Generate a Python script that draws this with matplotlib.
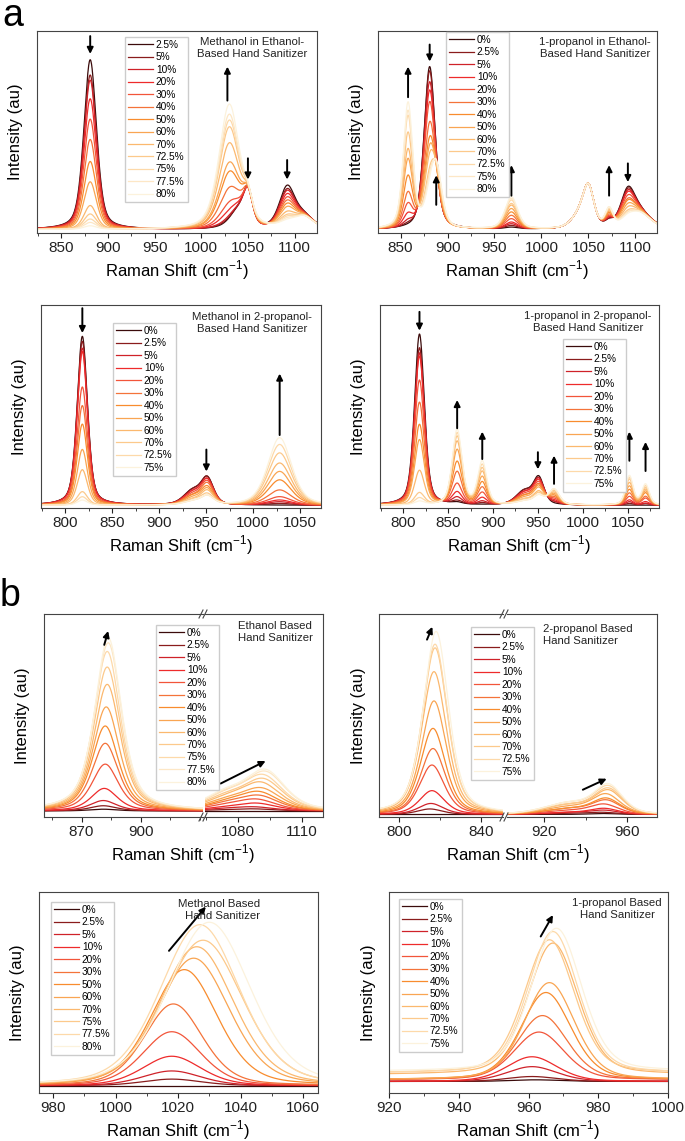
import numpy as np
import matplotlib
matplotlib.use("Agg")
from matplotlib import pyplot as plt
from matplotlib.lines import Line2D
from matplotlib.ticker import MultipleLocator, FixedLocator

plt.rcParams['font.family'] = ['Liberation Sans', 'DejaVu Sans']

W, H = 685, 1141

PALETTE = ['#3b0b0b', '#8a1c1c', '#cf2229', '#ee2b2b', '#f2553a', '#f4733a', '#f88c2e',
           '#f9a552', '#fbb86e', '#fcc98b', '#fdd9a9', '#fde7c6', '#fcf2dc']

# ---- panel a, top left: methanol in ethanol based sanitizer
A1_CONC = ['2.5%', '5%', '10%', '20%', '30%', '40%', '50%', '60%', '70%', '72.5%', '75%', '77.5%', '80%']
A1_CENTERS = [881, 1030, 1040, 1050, 1092, 1110]
A1_WIDTHS = [8, 13, 10, 6, 10, 12]
A1_HEIGHTS = [
    [1.0, 0.91, 0.88, 0.77, 0.65, 0.53, 0.40, 0.28, 0.14, 0.09, 0.06, 0.04, 0.02],
    [0.01, 0.02, 0.03, 0.07, 0.12, 0.21, 0.31, 0.37, 0.49, 0.59, 0.63, 0.67, 0.73],
    [0.10, 0.09, 0.09, 0.08, 0.07, 0.06, 0.05, 0.04, 0.03, 0.02, 0.02, 0.01, 0.01],
    [0.20, 0.20, 0.19, 0.19, 0.18, 0.17, 0.16, 0.15, 0.13, 0.12, 0.11, 0.11, 0.10],
    [0.24, 0.22, 0.21, 0.19, 0.17, 0.15, 0.13, 0.11, 0.08, 0.06, 0.05, 0.04, 0.03],
    [0.07, 0.07, 0.07, 0.07, 0.07, 0.07, 0.07, 0.07, 0.07, 0.07, 0.07, 0.07, 0.07],
]

# ---- panel a, top right: 1-propanol in ethanol based sanitizer
A2_CONC = ['0%', '2.5%', '5%', '10%', '20%', '30%', '40%', '50%', '60%', '70%', '72.5%', '75%', '80%']
A2_CENTERS = [858, 881, 888, 968, 1040, 1050, 1072, 1092, 1105]
A2_WIDTHS = [6, 7, 7, 8, 10, 7, 5, 9, 14]
A2_HEIGHTS = [
    [0.0, 0.01, 0.03, 0.07, 0.13, 0.20, 0.30, 0.40, 0.46, 0.56, 0.66, 0.69, 0.74],
    [0.96, 0.93, 0.86, 0.80, 0.72, 0.58, 0.47, 0.40, 0.33, 0.22, 0.17, 0.15, 0.12],
    [0.0, 0.01, 0.02, 0.04, 0.06, 0.10, 0.14, 0.18, 0.22, 0.27, 0.30, 0.32, 0.34],
    [0.01, 0.02, 0.03, 0.04, 0.06, 0.08, 0.10, 0.12, 0.14, 0.15, 0.17, 0.18, 0.19],
    [0.07, 0.07, 0.07, 0.07, 0.07, 0.07, 0.07, 0.07, 0.07, 0.07, 0.07, 0.07, 0.07],
    [0.23, 0.23, 0.23, 0.23, 0.23, 0.23, 0.23, 0.23, 0.23, 0.23, 0.23, 0.23, 0.23],
    [0.03, 0.03, 0.04, 0.04, 0.05, 0.06, 0.07, 0.08, 0.09, 0.10, 0.10, 0.11, 0.11],
    [0.20, 0.19, 0.18, 0.17, 0.15, 0.13, 0.12, 0.10, 0.08, 0.06, 0.05, 0.05, 0.04],
    [0.09, 0.09, 0.09, 0.09, 0.09, 0.09, 0.09, 0.09, 0.09, 0.09, 0.09, 0.09, 0.09],
]

# ---- panel a, bottom left: methanol in 2-propanol based sanitizer
A3_CONC = ['0%', '2.5%', '5%', '10%', '20%', '30%', '40%', '50%', '60%', '70%', '72.5%', '75%']
A3_CENTERS = [818, 935, 951, 1028]
A3_WIDTHS = [6.5, 11, 8, 15]
A3_HEIGHTS = [
    [1.0, 0.97, 0.93, 0.91, 0.70, 0.59, 0.48, 0.33, 0.21, 0.08, 0.05, 0.03],
    [0.08, 0.08, 0.07, 0.07, 0.06, 0.05, 0.05, 0.04, 0.03, 0.03, 0.02, 0.02],
    [0.15, 0.15, 0.14, 0.14, 0.13, 0.12, 0.10, 0.09, 0.08, 0.06, 0.05, 0.05],
    [0.0, 0.01, 0.02, 0.03, 0.05, 0.09, 0.15, 0.20, 0.25, 0.31, 0.36, 0.40],
]

# ---- panel a, bottom right: 1-propanol in 2-propanol based sanitizer
A4_CONC = ['0%', '2.5%', '5%', '10%', '20%', '30%', '40%', '50%', '60%', '70%', '72.5%', '75%']
A4_CENTERS = [818, 860, 888, 935, 951, 968, 1052, 1070]
A4_WIDTHS = [6.5, 6.5, 6, 11, 7, 7, 5, 5]
A4_HEIGHTS = [
    [1.0, 0.92, 0.89, 0.87, 0.73, 0.60, 0.47, 0.38, 0.20, 0.07, 0.04, 0.02],
    [0.01, 0.02, 0.04, 0.07, 0.12, 0.19, 0.25, 0.32, 0.37, 0.40, 0.42, 0.44],
    [0.0, 0.01, 0.02, 0.04, 0.07, 0.10, 0.13, 0.16, 0.19, 0.21, 0.23, 0.25],
    [0.08, 0.08, 0.07, 0.07, 0.06, 0.05, 0.05, 0.04, 0.03, 0.03, 0.02, 0.02],
    [0.15, 0.14, 0.14, 0.13, 0.12, 0.11, 0.10, 0.09, 0.07, 0.06, 0.05, 0.05],
    [0.0, 0.01, 0.01, 0.02, 0.03, 0.04, 0.05, 0.06, 0.07, 0.08, 0.09, 0.09],
    [0.0, 0.01, 0.02, 0.03, 0.05, 0.07, 0.09, 0.11, 0.13, 0.15, 0.16, 0.17],
    [0.0, 0.01, 0.01, 0.02, 0.04, 0.05, 0.07, 0.08, 0.09, 0.10, 0.11, 0.12],
]

# ---- panel b, top left: ethanol based sanitizer (broken axis)
B1_CONC = ['0%', '2.5%', '5%', '10%', '20%', '30%', '40%', '50%', '60%', '70%', '75%', '77.5%', '80%']
B1_LEFT_CENTER = [881, 881, 881, 881.5, 882, 882, 882, 882.5, 883, 883, 883, 883.5, 883.5]
B1_LEFT_HEIGHT = [0.01, 0.03, 0.06, 0.13, 0.27, 0.39, 0.49, 0.60, 0.73, 0.83, 0.92, 0.97, 1.0]
B1_RIGHT_CENTER = [1088, 1088, 1088, 1089, 1089, 1090, 1090, 1091, 1091, 1092, 1092, 1093, 1093]
B1_RIGHT_HEIGHT = [0.0, 0.01, 0.02, 0.04, 0.06, 0.08, 0.10, 0.12, 0.15, 0.17, 0.19, 0.21, 0.22]
B1_SHOULDER = [0.0, 0.005, 0.01, 0.015, 0.025, 0.035, 0.04, 0.05, 0.06, 0.07, 0.08, 0.085, 0.09]
B1_TICKS_LEFT = [870, 900]
B1_TICKS_RIGHT = [1080, 1110]

# ---- panel b, top right: 2-propanol based sanitizer (broken axis)
B2_CONC = ['0%', '2.5%', '5%', '10%', '20%', '30%', '40%', '50%', '60%', '70%', '72.5%', '75%']
B2_LEFT_CENTER = [815, 815, 815.5, 816, 816, 816.5, 816.5, 817, 817, 817.5, 817.5, 818]
B2_LEFT_HEIGHT = [0.0, 0.03, 0.06, 0.13, 0.27, 0.36, 0.47, 0.62, 0.78, 0.91, 0.93, 1.0]
B2_RIGHT_CENTER = [948, 948, 949, 949, 949, 950, 950, 950, 951, 951, 951, 951]
B2_RIGHT_HEIGHT = [0.005, 0.01, 0.02, 0.03, 0.05, 0.07, 0.08, 0.10, 0.12, 0.13, 0.14, 0.15]
B2_SHOULDER = [0.0, 0.005, 0.01, 0.01, 0.02, 0.03, 0.03, 0.04, 0.05, 0.05, 0.06, 0.06]
B2_TICKS_LEFT = [800, 840]
B2_TICKS_RIGHT = [920, 960]

# ---- panel b, bottom left: methanol based sanitizer
B3_CONC = ['0%', '2.5%', '5%', '10%', '20%', '30%', '50%', '60%', '70%', '75%', '77.5%', '80%']
B3_CENTER = [1018, 1018, 1018, 1018, 1018, 1018.5, 1022, 1025, 1026, 1028, 1027, 1030]
B3_WIDTH = [11, 11, 11, 11, 11, 11, 12.5, 13.5, 14, 15, 15, 15.5]
B3_HEIGHT = [0.0, 0.04, 0.09, 0.18, 0.33, 0.50, 0.71, 0.78, 0.85, 0.89, 0.985, 1.0]

# ---- panel b, bottom right: 1-propanol based sanitizer
B4_CONC = ['0%', '2.5%', '5%', '10%', '20%', '30%', '40%', '50%', '60%', '70%', '72.5%', '75%']
B4_CENTER = [962, 961, 961, 961, 963, 964, 965, 966, 967, 966, 967, 968]
B4_HEIGHT = [0.01, 0.03, 0.09, 0.15, 0.29, 0.39, 0.53, 0.59, 0.80, 0.81, 0.86, 0.87]
B4_BASE = [0.07, 0.07, 0.07, 0.07, 0.08, 0.08, 0.08, 0.08, 0.11, 0.12, 0.12, 0.13]

XLABEL = 'Raman Shift (cm$^{\\mathregular{-1}}$)'


def peak(x, c, w, eta):
    u = (x - c) / w
    return eta / (1 + u ** 2) + (1 - eta) * np.exp(-np.log(2) * u ** 2)


def pick(v, i):
    return v[i] if np.ndim(v) else v


def spectrum(x, i, centers, widths, heights, eta=0.45, base=0.0):
    y = np.full_like(x, pick(base, i), dtype=float)
    for c, w, h in zip(centers, widths, heights):
        y += pick(h, i) * peak(x, pick(c, i), pick(w, i), eta)
    return y


def colors_for(n):
    if n == 13:
        return PALETTE
    return PALETTE[:11] + PALETTE[12:]


fig = plt.figure(figsize=(W / 100, H / 100), dpi=100)


def make_ax(l, t, r, b, xlim, major, minor):
    ax = fig.add_axes([l / W, 1 - b / H, (r - l) / W, (b - t) / H])
    ax.set_xlim(*xlim)
    ax.set_yticks([])
    if np.ndim(major):
        ax.xaxis.set_major_locator(FixedLocator(major))
    else:
        ax.xaxis.set_major_locator(MultipleLocator(major))
    ax.xaxis.set_minor_locator(MultipleLocator(minor))
    ax.tick_params(axis='x', which='major', direction='out', length=3.5, width=0.8,
                   labelsize=11, pad=2, colors='#222222')
    ax.tick_params(axis='x', which='minor', direction='out', length=2, width=0.6, colors='#222222')
    for s in ax.spines.values():
        s.set_linewidth(0.8)
        s.set_color('#444444')
    return ax


def labels(l, r, t, b):
    fig.text((l + r) / 2 / W, 1 - (b + 37) / H, XLABEL, ha='center', va='center', fontsize=12)
    fig.text((l - 21) / W, 1 - (t + b) / 2 / H, 'Intensity (au)', rotation=90, ha='center', va='center', fontsize=12)


def legend(handles, x, y):
    fig.legend(handles=handles, loc='upper left', bbox_to_anchor=(x / W, 1 - y / H),
               bbox_transform=fig.transFigure, fontsize=7.3, labelspacing=0.24,
               handlelength=2.5, handletextpad=0.25, borderpad=0.3, borderaxespad=0,
               fancybox=False, edgecolor='#cccccc', framealpha=1)


def note(x, y, text, ha='center'):
    fig.text(x / W, 1 - y / H, text, ha=ha, va='center', fontsize=8.2, linespacing=1.15,
             multialignment=ha, color='#222222')


def arrow(ax, x0, y0, x1, y1):
    ax.annotate('', xy=(x1, y1), xytext=(x0, y0),
                arrowprops=dict(arrowstyle='-|>', color='black', lw=1.4, mutation_scale=9,
                                shrinkA=0, shrinkB=0))


def break_marks(xpx, t, b):
    for y in (t, b):
        for dx in (-3, 1):
            fig.add_artist(Line2D([(xpx + dx - 2) / W, (xpx + dx + 2) / W],
                                  [1 - (y + 4) / H, 1 - (y - 4) / H], color='#444444', lw=0.8))


def draw_simple(ax, conc, centers, widths, heights, xlim, eta=0.45, base=0.0):
    x = np.linspace(xlim[0], xlim[1], 900)
    cols = colors_for(len(conc))
    lines = []
    for i, lab in enumerate(conc):
        ln, = ax.plot(x, spectrum(x, i, centers, widths, heights, eta, base), color=cols[i], lw=0.9, label=lab)
        lines.append(ln)
    return lines


# panel letters
fig.text(2 / W, 1 - 26 / H, 'a', fontsize=27, va='baseline', ha='left')
fig.text(0 / W, 1 - 606 / H, 'b', fontsize=27, va='baseline', ha='left')

# a1
ax = make_ax(37, 31, 317, 233, (824, 1124), 50, 25)
lines = draw_simple(ax, A1_CONC, A1_CENTERS, A1_WIDTHS, A1_HEIGHTS, (824, 1124))
ax.set_ylim(-0.02, 1.17)
arrow(ax, 881, 1.14, 881, 1.035)
arrow(ax, 1028, 0.76, 1028, 0.96)
arrow(ax, 1050, 0.42, 1050, 0.295)
arrow(ax, 1092, 0.41, 1092, 0.295)
legend(lines, 125, 37)
note(252, 48, 'Methanol in Ethanol-\nBased Hand Sanitizer')
labels(37, 317, 31, 233)

# a2
ax = make_ax(378, 31, 657, 233, (826, 1123), 50, 25)
lines = draw_simple(ax, A2_CONC, A2_CENTERS, A2_WIDTHS, A2_HEIGHTS, (826, 1123))
ax.set_ylim(-0.02, 1.17)
arrow(ax, 858, 0.78, 858, 0.96)
arrow(ax, 881, 1.09, 881, 0.99)
arrow(ax, 888, 0.146, 888, 0.32)
arrow(ax, 968, 0.20, 968, 0.38)
arrow(ax, 1072, 0.20, 1072, 0.38)
arrow(ax, 1092, 0.39, 1092, 0.28)
legend(lines, 446, 32)
note(595, 48, '1-propanol in Ethanol-\nBased Hand Sanitizer')
labels(378, 657, 31, 233)

# a3
ax = make_ax(41, 305, 321, 508, (774, 1072), 50, 25)
lines = draw_simple(ax, A3_CONC, A3_CENTERS, A3_WIDTHS, A3_HEIGHTS, (774, 1072))
ax.set_ylim(-0.016, 1.186)
arrow(ax, 818, 1.167, 818, 1.02)
arrow(ax, 950, 0.33, 950, 0.20)
arrow(ax, 1028, 0.416, 1028, 0.78)
legend(lines, 113, 323)
note(252, 323, 'Methanol in 2-propanol-\nBased Hand Sanitizer')
labels(41, 321, 305, 508)

# a4
ax = make_ax(380, 305, 659, 508, (774, 1085), 50, 25)
lines = draw_simple(ax, A4_CONC, A4_CENTERS, A4_WIDTHS, A4_HEIGHTS, (774, 1085))
ax.set_ylim(-0.016, 1.17)
arrow(ax, 818, 1.13, 818, 1.02)
arrow(ax, 860, 0.45, 860, 0.615)
arrow(ax, 888, 0.27, 888, 0.43)
arrow(ax, 950, 0.31, 950, 0.21)
arrow(ax, 968, 0.125, 968, 0.29)
arrow(ax, 1052, 0.26, 1052, 0.43)
arrow(ax, 1070, 0.20, 1070, 0.37)
legend(lines, 563, 339)
note(588, 322, '1-propanol in 2-propanol-\nBased Hand Sanitizer')
labels(380, 659, 305, 508)

# b1, broken axis
axl = make_ax(44, 614, 203, 817, (851, 931.5), B1_TICKS_LEFT, 15)
axr = make_ax(205, 614, 323, 817, (1064.7, 1119.8), B1_TICKS_RIGHT, 15)
axl.spines['right'].set_visible(False)
axr.spines['left'].set_visible(False)
cols = colors_for(len(B1_CONC))
xl = np.linspace(851, 931.5, 500)
xr = np.linspace(1064.7, 1119.8, 500)
lines = []
for i, lab in enumerate(B1_CONC):
    yl = spectrum(xl, i, [B1_LEFT_CENTER], [8], [B1_LEFT_HEIGHT], eta=0.6, base=0.012)
    yr = spectrum(xr, i, [B1_RIGHT_CENTER, 1074], [11, 12], [B1_RIGHT_HEIGHT, B1_SHOULDER], eta=0.5, base=0.012)
    ln, = axl.plot(xl, yl, color=cols[i], lw=0.9, label=lab)
    axr.plot(xr, yr, color=cols[i], lw=0.9)
    lines.append(ln)
for a in (axl, axr):
    a.set_ylim(-0.023, 1.148)
arrow(axl, 881.5, 0.97, 883.5, 1.05)
arrow(axr, 1072, 0.17, 1093, 0.30)
break_marks(204, 614, 817)
legend(lines, 156, 625)
note(238, 632, 'Ethanol Based\nHand Sanitizer', ha='left')
labels(44, 323, 614, 817)

# b2, broken axis
axl = make_ax(379, 614, 503, 817, (790.3, 850.5), B2_TICKS_LEFT, 20)
axr = make_ax(507, 614, 657, 817, (902, 974.4), B2_TICKS_RIGHT, 20)
axl.spines['right'].set_visible(False)
axr.spines['left'].set_visible(False)
cols = colors_for(len(B2_CONC))
xl = np.linspace(790.3, 850.5, 500)
xr = np.linspace(902, 974.4, 500)
lines = []
for i, lab in enumerate(B2_CONC):
    yl = spectrum(xl, i, [B2_LEFT_CENTER], [7.2], [B2_LEFT_HEIGHT], eta=0.5, base=0.005)
    yr = spectrum(xr, i, [B2_RIGHT_CENTER, 932], [8, 14], [B2_RIGHT_HEIGHT, B2_SHOULDER], eta=0.4, base=0.005)
    ln, = axl.plot(xl, yl, color=cols[i], lw=0.9, label=lab)
    axr.plot(xr, yr, color=cols[i], lw=0.9)
    lines.append(ln)
for a in (axl, axr):
    a.set_ylim(-0.009, 1.10)
arrow(axl, 813.6, 0.96, 816.2, 1.03)
arrow(axr, 938.6, 0.14, 950.1, 0.20)
break_marks(505, 614, 817)
legend(lines, 471, 627)
note(543, 635, '2-propanol Based\nHand Sanitizer', ha='left')
labels(379, 657, 614, 817)

# b3
ax = make_ax(39, 892, 318, 1093, (975.5, 1064.8), 20, 10)
x = np.linspace(975.5, 1064.8, 900)
cols = colors_for(len(B3_CONC))
lines = []
for i, lab in enumerate(B3_CONC):
    y = spectrum(x, i, [B3_CENTER], [B3_WIDTH], [B3_HEIGHT], eta=0.3, base=0.005)
    ln, = ax.plot(x, y, color=cols[i], lw=0.9, label=lab)
    lines.append(ln)
ax.set_ylim(-0.04, 1.19)
arrow(ax, 1017.1, 0.83, 1028.9, 1.10)
legend(lines, 51, 902)
note(260, 910, 'Methanol Based\n Hand Sanitizer', ha='right')
labels(39, 318, 892, 1093)

# b4
ax = make_ax(389, 892, 668, 1093, (920, 1000), 20, 10)
x = np.linspace(920, 1000, 900)
cols = colors_for(len(B4_CONC))
lines = []
for i, lab in enumerate(B4_CONC):
    y = spectrum(x, i, [B4_CENTER], [8.5], [B4_HEIGHT], eta=0.3, base=B4_BASE)
    ln, = ax.plot(x, y, color=cols[i], lw=0.9, label=lab)
    lines.append(ln)
ax.set_ylim(0, 1.22)
arrow(ax, 963.5, 0.95, 967.0, 1.08)
legend(lines, 399, 899)
note(617, 909, '1-propanol Based\nHand Sanitizer')
labels(389, 668, 892, 1093)

fig.savefig('out.png', dpi=100)
